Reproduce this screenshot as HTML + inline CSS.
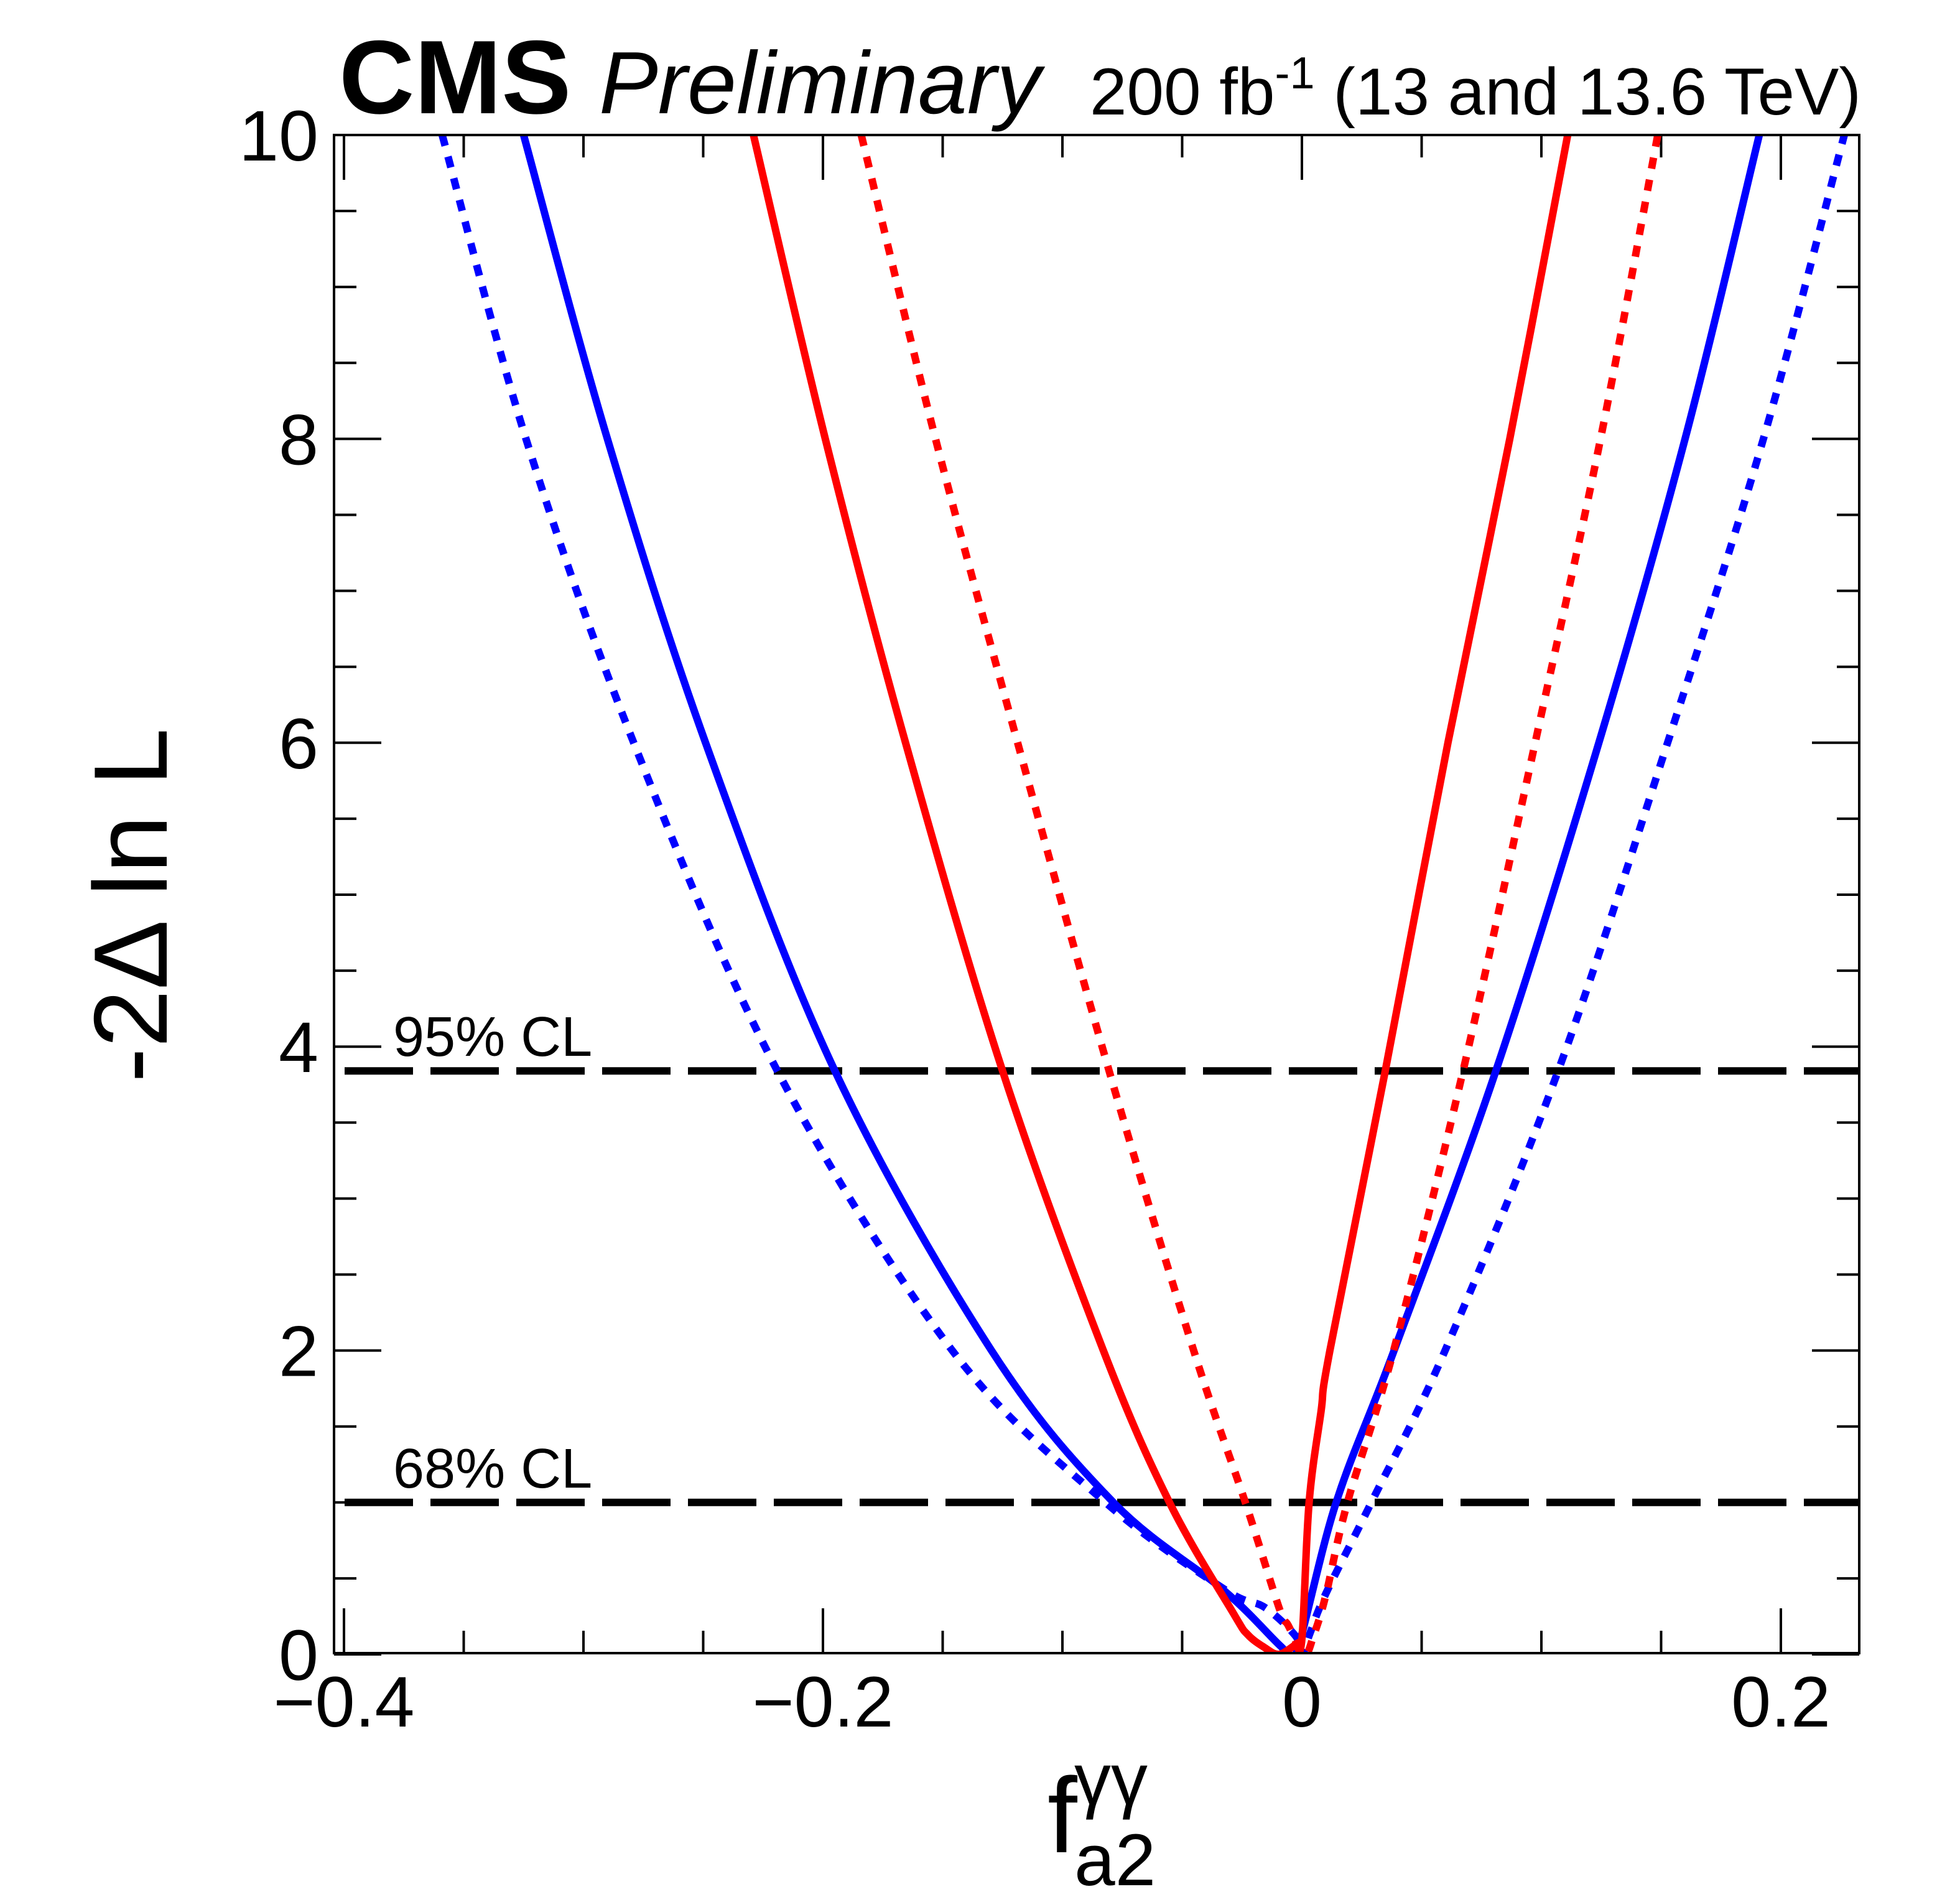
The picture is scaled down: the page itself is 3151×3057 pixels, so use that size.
<!DOCTYPE html>
<html><head><meta charset="utf-8"><style>
html,body{margin:0;padding:0;background:#fff}
svg{display:block;font-family:"Liberation Sans",sans-serif}
</style></head><body>
<svg id="c" width="3151" height="3057" viewBox="0 0 3151 3057">
<defs><clipPath id="clip"><rect x="537" y="217" width="2452" height="2440"/></clipPath></defs>
<g id="grid"></g>
<text x="545" y="182" font-size="168" font-weight="bold">CMS</text>
<text x="963" y="182" font-size="142" font-style="italic">Preliminary</text>
<text x="2992" y="184" font-size="107" text-anchor="end">200 fb<tspan dy="-42" font-size="72">-1</tspan><tspan dy="42"> (13 and 13.6 TeV)</tspan></text>
<text transform="translate(268,1455) rotate(-90)" font-size="168" text-anchor="middle">-2Δ ln L</text>
<g>
<text x="1684" y="2977" font-size="172">f</text>
<text x="1727" y="2900" font-size="118">γγ</text>
<text x="1727" y="3030" font-size="118">a2</text>
</g>
<text x="632" y="1697" font-size="90">95% CL</text>
<text x="632" y="2391" font-size="90">68% CL</text>
<g id="plot" clip-path="url(#clip)"></g>
<rect x="537" y="217" width="2452" height="2440" fill="none" stroke="#000" stroke-width="4"/>
</svg>
<script>
const xTicksMajor = [-0.4, -0.2, 0, 0.2];
const xTickLabels = ["−0.4", "−0.2", "0", "0.2"];
const yTicksMajor = [0, 2, 4, 6, 8, 10];
const yTickLabels = ["0", "2", "4", "6", "8", "10"];
const clLevels = [1, 3.84];
const redSolidX = [-0.229,-0.199,-0.1655,-0.125,-0.0829,-0.0553,-0.0286,-0.0226,-0.0156,-0.0096,-0.003,0.0,0.003,0.008,0.0117,0.0348,0.061,0.0868,0.111];
const redSolidY = [10,8,6,3.84,2,1,0.27,0.13,0.045,0,0.06,0.1,1,1.6,2,3.84,6,8,10];
const redDotX = [-0.184,-0.153,-0.1187,-0.0805,-0.0452,-0.0236,-0.0096,-0.0057,0.001,0.005,0.010,0.019,0.0383,0.0673,0.0974,0.1247,0.1486];
const redDotY = [10,8,6,3.84,2,1,0.31,0.19,0,0.13,0.39,1,2,3.84,6,8,10];
const blueSolidX = [-0.325,-0.290,-0.249,-0.195,-0.1296,-0.0787,-0.0325,-0.0086,-0.0026,0.0143,0.0385,0.081,0.124,0.160,0.191];
const blueSolidY = [10,8,6,3.84,2,1,0.42,0.05,0,1,2,3.84,6,8,10];
const blueDotX = [-0.359,-0.324,-0.279,-0.219,-0.146,-0.082,-0.0325,-0.0156,-0.0026,0.0,0.0034,0.010,0.029,0.0598,0.107,0.1527,0.1927,0.2265];
const blueDotY = [10,8,6,3.84,2,1,0.43,0.31,0.12,0,0.14,0.4,1,2,3.84,6,8,10];

const NS = "http://www.w3.org/2000/svg";
const X0 = 537, X1 = 2989, Y0 = 217, Y1 = 2657;
const xv = v => 2093 + v * 3850;
const yv = v => 2659 - v * 244.2;
const grid = document.getElementById('grid');
const plot = document.getElementById('plot');
function mk(tag, attrs, parent) {
  const e = document.createElementNS(NS, tag);
  for (const k in attrs) e.setAttribute(k, attrs[k]);
  parent.appendChild(e);
  return e;
}
for (let v = -0.4; v <= 0.2301; v += 0.05) {
  const vv = Math.round(v * 100) / 100;
  const major = Math.abs(vv / 0.2 - Math.round(vv / 0.2)) < 1e-6;
  const L = major ? 72 : 36;
  const x = xv(vv);
  const t1 = mk('line', {x1: x, x2: x, y1: Y1, y2: Y1 - L, stroke: '#000', 'stroke-width': 4}, grid);
  
  
  const t2 = mk('line', {x1: x, x2: x, y1: Y0, y2: Y0 + L, stroke: '#000', 'stroke-width': 4}, grid);
  
  
}
xTicksMajor.forEach((v, i) => {
  const t = mk('text', {x: xv(v), y: 2775, 'font-size': 115, 'text-anchor': 'middle'}, grid);
  t.textContent = xTickLabels[i];
  
  
});
for (let v = 0; v <= 10.001; v += 0.5) {
  const major = Math.abs(v / 2 - Math.round(v / 2)) < 1e-6;
  const L = major ? 76 : 36;
  const y = yv(v);
  const t1 = mk('line', {x1: X0, x2: X0 + L, y1: y, y2: y, stroke: '#000', 'stroke-width': 4}, grid);
  
  
  const t2 = mk('line', {x1: X1, x2: X1 - L, y1: y, y2: y, stroke: '#000', 'stroke-width': 4}, grid);
  
  
}
yTicksMajor.forEach((v, i) => {
  const t = mk('text', {x: 512, y: yv(v) + 41, 'font-size': 115, 'text-anchor': 'end'}, grid);
  t.textContent = yTickLabels[i];
  
  
});
clLevels.forEach(v => {
  const l = mk('line', {x1: 554, x2: 2990, y1: yv(v), y2: yv(v), stroke: '#000', 'stroke-width': 12, 'stroke-dasharray': '110 28'}, plot);
  
  
});
function curve(xs, ys, color, dotted, name) {
  const P = xs.map((x, i) => [xv(x), yv(ys[i])]);
  let d = 'M' + P[0][0].toFixed(1) + ',' + P[0][1].toFixed(1);
  const t = 0.5 / 3;
  for (let i = 0; i < P.length - 1; i++) {
    const p0 = P[Math.max(0, i - 1)], p1 = P[i], p2 = P[i + 1], p3 = P[Math.min(P.length - 1, i + 2)];
    const c1 = [p1[0] + (p2[0] - p0[0]) * t, p1[1] + (p2[1] - p0[1]) * t];
    const c2 = [p2[0] - (p3[0] - p1[0]) * t, p2[1] - (p3[1] - p1[1]) * t];
    d += ' C' + c1[0].toFixed(1) + ',' + c1[1].toFixed(1) + ' ' + c2[0].toFixed(1) + ',' + c2[1].toFixed(1) + ' ' + p2[0].toFixed(1) + ',' + p2[1].toFixed(1);
  }
  const attrs = {d: d, fill: 'none', stroke: color, 'stroke-width': 12, 'stroke-linejoin': 'round'};
  if (dotted) attrs['stroke-dasharray'] = '18 18';
  const p = mk('path', attrs, plot);
  
  
}
curve(blueDotX, blueDotY, '#0000ff', true, 'blue-dotted-curve');
curve(blueSolidX, blueSolidY, '#0000ff', false, 'blue-solid-curve');
curve(redDotX, redDotY, '#ff0000', true, 'red-dotted-curve');
curve(redSolidX, redSolidY, '#ff0000', false, 'red-solid-curve');
</script>
</body></html>
